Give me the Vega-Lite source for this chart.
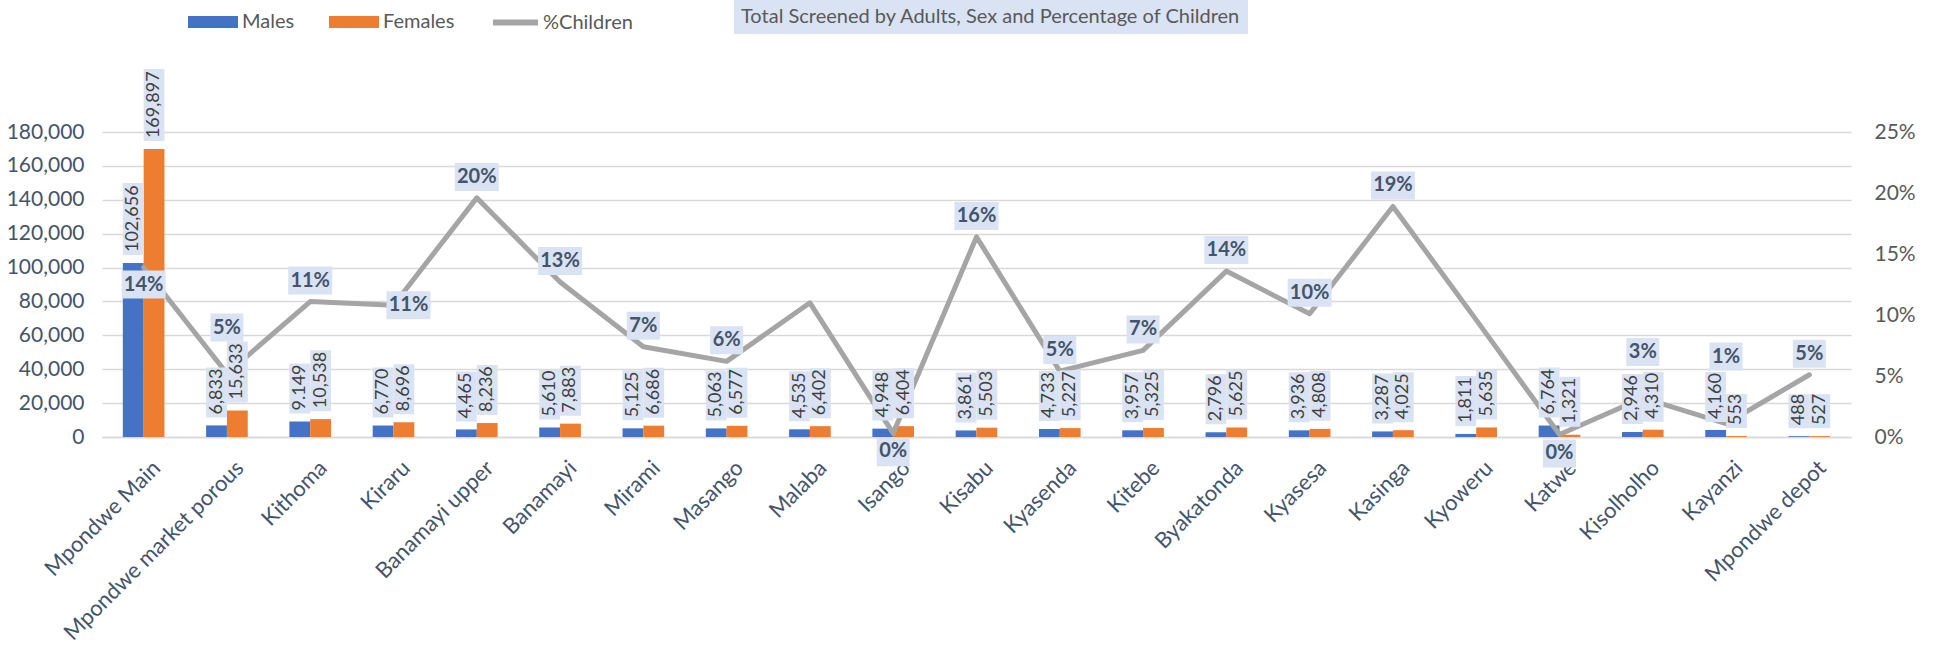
{
  "$schema": "https://vega.github.io/schema/vega-lite/v6.json",
  "width": 1749,
  "height": 305,
  "autosize": {"type": "none"},
  "padding": {"left": 102, "top": 132, "right": 84, "bottom": 212},
  "background": "white",
  "config": {
    "font": "Lato",
    "view": {"stroke": null},
    "axis": {"labelFont": "Lato"},
    "legend": {"labelFont": "Lato", "titleFont": "Lato"},
    "text": {"font": "Lato"}
  },
  "datasets": {
    "counts": [
      {"site": "Mpondwe Main", "sex": "Males", "count": 102656, "label": "102,656"},
      {"site": "Mpondwe Main", "sex": "Females", "count": 169897, "label": "169,897"},
      {"site": "Mpondwe market porous", "sex": "Males", "count": 6833, "label": "6,833"},
      {"site": "Mpondwe market porous", "sex": "Females", "count": 15633, "label": "15,633"},
      {"site": "Kithoma", "sex": "Males", "count": 9149, "label": "9.149"},
      {"site": "Kithoma", "sex": "Females", "count": 10538, "label": "10,538"},
      {"site": "Kiraru", "sex": "Males", "count": 6770, "label": "6,770"},
      {"site": "Kiraru", "sex": "Females", "count": 8696, "label": "8,696"},
      {"site": "Banamayi upper", "sex": "Males", "count": 4465, "label": "4,465"},
      {"site": "Banamayi upper", "sex": "Females", "count": 8236, "label": "8,236"},
      {"site": "Banamayi", "sex": "Males", "count": 5610, "label": "5,610"},
      {"site": "Banamayi", "sex": "Females", "count": 7883, "label": "7,883"},
      {"site": "Mirami", "sex": "Males", "count": 5125, "label": "5,125"},
      {"site": "Mirami", "sex": "Females", "count": 6686, "label": "6,686"},
      {"site": "Masango", "sex": "Males", "count": 5063, "label": "5,063"},
      {"site": "Masango", "sex": "Females", "count": 6577, "label": "6,577"},
      {"site": "Malaba", "sex": "Males", "count": 4535, "label": "4,535"},
      {"site": "Malaba", "sex": "Females", "count": 6402, "label": "6,402"},
      {"site": "Isango", "sex": "Males", "count": 4948, "label": "4,948"},
      {"site": "Isango", "sex": "Females", "count": 6404, "label": "6,404"},
      {"site": "Kisabu", "sex": "Males", "count": 3861, "label": "3,861"},
      {"site": "Kisabu", "sex": "Females", "count": 5503, "label": "5,503"},
      {"site": "Kyasenda", "sex": "Males", "count": 4733, "label": "4,733"},
      {"site": "Kyasenda", "sex": "Females", "count": 5227, "label": "5,227"},
      {"site": "Kitebe", "sex": "Males", "count": 3957, "label": "3,957"},
      {"site": "Kitebe", "sex": "Females", "count": 5325, "label": "5,325"},
      {"site": "Byakatonda", "sex": "Males", "count": 2796, "label": "2,796"},
      {"site": "Byakatonda", "sex": "Females", "count": 5625, "label": "5,625"},
      {"site": "Kyasesa", "sex": "Males", "count": 3936, "label": "3,936"},
      {"site": "Kyasesa", "sex": "Females", "count": 4808, "label": "4,808"},
      {"site": "Kasinga", "sex": "Males", "count": 3287, "label": "3,287"},
      {"site": "Kasinga", "sex": "Females", "count": 4025, "label": "4,025"},
      {"site": "Kyoweru", "sex": "Males", "count": 1811, "label": "1,811"},
      {"site": "Kyoweru", "sex": "Females", "count": 5635, "label": "5,635"},
      {"site": "Katwe", "sex": "Males", "count": 6764, "label": "6,764"},
      {"site": "Katwe", "sex": "Females", "count": 1321, "label": "1,321"},
      {"site": "Kisolholho", "sex": "Males", "count": 2946, "label": "2,946"},
      {"site": "Kisolholho", "sex": "Females", "count": 4310, "label": "4,310"},
      {"site": "Kayanzi", "sex": "Males", "count": 4160, "label": "4,160"},
      {"site": "Kayanzi", "sex": "Females", "count": 553, "label": "553"},
      {"site": "Mpondwe depot", "sex": "Males", "count": 488, "label": "488"},
      {"site": "Mpondwe depot", "sex": "Females", "count": 527, "label": "527"}
    ],
    "pct": [
      {"site": "Mpondwe Main", "pct": 0.139},
      {"site": "Mpondwe market porous", "pct": 0.052},
      {"site": "Kithoma", "pct": 0.111},
      {"site": "Kiraru", "pct": 0.108},
      {"site": "Banamayi upper", "pct": 0.196},
      {"site": "Banamayi", "pct": 0.127},
      {"site": "Mirami", "pct": 0.074},
      {"site": "Masango", "pct": 0.062},
      {"site": "Malaba", "pct": 0.11},
      {"site": "Isango", "pct": 0.003},
      {"site": "Kisabu", "pct": 0.164},
      {"site": "Kyasenda", "pct": 0.054},
      {"site": "Kitebe", "pct": 0.071},
      {"site": "Byakatonda", "pct": 0.136},
      {"site": "Kyasesa", "pct": 0.101},
      {"site": "Kasinga", "pct": 0.189},
      {"site": "Kyoweru", "pct": 0.096},
      {"site": "Katwe", "pct": 0.002},
      {"site": "Kisolholho", "pct": 0.032},
      {"site": "Kayanzi", "pct": 0.011},
      {"site": "Mpondwe depot", "pct": 0.051}
    ]
  },
  "encoding": {
    "x": {
      "field": "site",
      "type": "nominal",
      "sort": ["Mpondwe Main", "Mpondwe market porous", "Kithoma", "Kiraru", "Banamayi upper", "Banamayi", "Mirami", "Masango", "Malaba", "Isango", "Kisabu", "Kyasenda", "Kitebe", "Byakatonda", "Kyasesa", "Kasinga", "Kyoweru", "Katwe", "Kisolholho", "Kayanzi", "Mpondwe depot"],
      "scale": {"paddingInner": 0.5, "paddingOuter": 0.25},
      "axis": {
        "title": null,
        "labelAngle": -45,
        "labelAlign": "right",
        "labelBaseline": "top",
        "labelFontSize": 22,
        "labelColor": "#44546A",
        "labelPadding": 20,
        "labelOffset": 6,
        "labelLimit": 400,
        "ticks": false,
        "domainColor": "#D9D9D9",
        "domainWidth": 1.5
      }
    }
  },
  "layer": [
    {
      "data": {"name": "counts"},
      "mark": {"type": "bar"},
      "encoding": {
        "xOffset": {"field": "sex", "type": "nominal", "sort": ["Males", "Females"], "scale": {"paddingInner": 0, "paddingOuter": 0}},
        "y": {
          "field": "count",
          "type": "quantitative",
          "scale": {"domain": [0, 180000], "nice": false},
          "axis": {
            "orient": "left",
            "title": null,
            "values": [0, 20000, 40000, 60000, 80000, 100000, 120000, 140000, 160000, 180000],
            "format": ",.0f",
            "labelFontSize": 21,
            "labelColor": "#44546A",
            "labelPadding": 18,
            "ticks": false,
            "domain": false,
            "grid": true,
            "gridColor": "#D9D9D9",
            "gridWidth": 1.5
          }
        },
        "color": {
          "field": "sex",
          "type": "nominal",
          "scale": {"domain": ["Males", "Females"], "range": ["#4472C4", "#ED7D31"]},
          "legend": {
            "orient": "none",
            "legendX": 86,
            "legendY": -135,
            "direction": "horizontal",
            "title": null,
            "symbolType": "M-1,-0.24H1V0.24H-1Z",
            "symbolSize": 2500,
            "symbolStrokeWidth": 0,
            "symbolOpacity": 1,
            "labelFontSize": 20,
            "labelColor": "#595959",
            "labelOffset": 4,
            "columnPadding": 34,
            "padding": 0
          }
        },
        "opacity": {
          "datum": "chart title",
          "scale": {"domain": ["chart title"], "range": [1, 1]},
          "legend": {
            "orient": "none",
            "legendX": 632,
            "legendY": -132,
            "title": "Total Screened by Adults, Sex and Percentage of Children",
            "values": [],
            "fillColor": "#DAE3F3",
            "padding": 7,
            "titleFontSize": 20,
            "titleFontWeight": "normal",
            "titleColor": "#595959",
            "titlePadding": 0,
            "titleLimit": 700
          }
        }
      }
    },
    {
      "data": {"name": "pct"},
      "mark": {"type": "line", "strokeWidth": 5, "strokeCap": "round", "strokeJoin": "round"},
      "encoding": {
        "y": {
          "field": "pct",
          "type": "quantitative",
          "scale": {"domain": [0, 0.25], "nice": false},
          "axis": {
            "orient": "right",
            "title": null,
            "values": [0, 0.05, 0.1, 0.15, 0.2, 0.25],
            "format": ".0%",
            "labelFontSize": 21,
            "labelColor": "#595959",
            "labelPadding": 23,
            "ticks": false,
            "domain": false,
            "grid": false
          }
        },
        "stroke": {
          "datum": "%Children",
          "scale": {"domain": ["%Children"], "range": ["#A5A5A5"]},
          "legend": {
            "orient": "none",
            "legendX": 388,
            "legendY": -135,
            "title": null,
            "symbolType": "stroke",
            "symbolSize": 2025,
            "symbolStrokeWidth": 6,
            "labelFontSize": 20,
            "labelColor": "#595959",
            "labelOffset": 2,
            "padding": 0
          }
        }
      }
    },
    {
      "data": {"name": "counts"},
      "encoding": {
        "xOffset": {"field": "sex", "type": "nominal", "sort": ["Males", "Females"], "scale": {"paddingInner": 0, "paddingOuter": 0}},
        "y": {"field": "count", "type": "quantitative", "scale": {"domain": [0, 180000], "nice": false}, "axis": null}
      },
      "layer": [
        {
          "transform": [{"filter": "datum.count < 1000"}],
          "mark": {"type": "bar", "color": "#DAE3F3", "yOffset": -8, "y2Offset": -42},
          "encoding": {"y2": {"field": "count"}}
        },
        {
          "transform": [{"filter": "datum.count >= 1000 && datum.count < 10000"}],
          "mark": {"type": "bar", "color": "#DAE3F3", "yOffset": -8, "y2Offset": -58},
          "encoding": {"y2": {"field": "count"}}
        },
        {
          "transform": [{"filter": "datum.count >= 10000 && datum.count < 100000"}],
          "mark": {"type": "bar", "color": "#DAE3F3", "yOffset": -8, "y2Offset": -69},
          "encoding": {"y2": {"field": "count"}}
        },
        {
          "transform": [{"filter": "datum.count >= 100000"}],
          "mark": {"type": "bar", "color": "#DAE3F3", "yOffset": -8, "y2Offset": -80},
          "encoding": {"y2": {"field": "count"}}
        },
        {
          "mark": {"type": "text", "angle": 270, "align": "left", "baseline": "middle", "dx": 11, "fontSize": 18, "color": "#404040"},
          "encoding": {"text": {"field": "label"}}
        }
      ]
    },
    {
      "data": {"name": "pct"},
      "encoding": {
        "y": {"field": "pct", "type": "quantitative", "scale": {"domain": [0, 0.25], "nice": false}, "axis": null}
      },
      "layer": [
        {
          "transform": [{"filter": "datum.pct >= 0.095 && datum.site !== 'Malaba' && datum.site !== 'Kyoweru' && datum.site !== 'Mpondwe Main' && datum.site !== 'Kiraru'"}],
          "mark": {"type": "bar", "color": "#DAE3F3", "width": 44, "yOffset": -7, "y2Offset": -35},
          "encoding": {"y2": {"field": "pct"}}
        },
        {
          "transform": [{"filter": "datum.pct >= 0.04 && datum.pct < 0.095 && datum.site !== 'Mpondwe market porous'"}],
          "mark": {"type": "bar", "color": "#DAE3F3", "width": 33, "yOffset": -7, "y2Offset": -35},
          "encoding": {"y2": {"field": "pct"}}
        },
        {
          "transform": [{"filter": "datum.site === 'Mpondwe Main'"}],
          "mark": {"type": "bar", "color": "#DAE3F3", "width": 44, "yOffset": 3, "y2Offset": 31},
          "encoding": {"y2": {"field": "pct"}}
        },
        {
          "transform": [{"filter": "datum.site === 'Kiraru'"}],
          "mark": {"type": "bar", "color": "#DAE3F3", "width": 44, "xOffset": 15, "yOffset": 14, "y2Offset": -14},
          "encoding": {"y2": {"field": "pct"}}
        },
        {
          "transform": [{"filter": "datum.pct < 0.005"}],
          "mark": {"type": "bar", "color": "#DAE3F3", "width": 33, "yOffset": 5, "y2Offset": 33},
          "encoding": {"y2": {"field": "pct"}}
        },
        {
          "transform": [{"filter": "datum.site === 'Kisolholho' || datum.site === 'Mpondwe market porous'"}],
          "mark": {"type": "bar", "color": "#DAE3F3", "width": 33, "yOffset": -32, "y2Offset": -60},
          "encoding": {"y2": {"field": "pct"}}
        },
        {
          "transform": [{"filter": "datum.site === 'Kayanzi'"}],
          "mark": {"type": "bar", "color": "#DAE3F3", "width": 33, "yOffset": -53, "y2Offset": -81},
          "encoding": {"y2": {"field": "pct"}}
        },
        {
          "transform": [{"filter": "datum.pct >= 0.04 && datum.site !== 'Malaba' && datum.site !== 'Kyoweru' && datum.site !== 'Mpondwe Main' && datum.site !== 'Mpondwe market porous' && datum.site !== 'Kiraru'"}],
          "mark": {"type": "text", "baseline": "middle", "align": "center", "dy": -21, "fontSize": 20, "fontWeight": "bold", "color": "#44546A"},
          "encoding": {"text": {"field": "pct", "format": ".0%"}}
        },
        {
          "transform": [{"filter": "datum.site === 'Kiraru'"}],
          "mark": {"type": "text", "baseline": "middle", "align": "center", "dx": 15, "dy": 0, "fontSize": 20, "fontWeight": "bold", "color": "#44546A"},
          "encoding": {"text": {"field": "pct", "format": ".0%"}}
        },
        {
          "transform": [{"filter": "datum.pct < 0.005 || datum.site === 'Mpondwe Main'"}],
          "mark": {"type": "text", "baseline": "middle", "align": "center", "dy": 18, "fontSize": 20, "fontWeight": "bold", "color": "#44546A"},
          "encoding": {"text": {"field": "pct", "format": ".0%"}}
        },
        {
          "transform": [{"filter": "datum.site === 'Kisolholho' || datum.site === 'Mpondwe market porous'"}],
          "mark": {"type": "text", "baseline": "middle", "align": "center", "dy": -46, "fontSize": 20, "fontWeight": "bold", "color": "#44546A"},
          "encoding": {"text": {"field": "pct", "format": ".0%"}}
        },
        {
          "transform": [{"filter": "datum.site === 'Kayanzi'"}],
          "mark": {"type": "text", "baseline": "middle", "align": "center", "dy": -67, "fontSize": 20, "fontWeight": "bold", "color": "#44546A"},
          "encoding": {"text": {"field": "pct", "format": ".0%"}}
        }
      ]
    }
  ],
  "resolve": {"scale": {"y": "independent"}}
}
